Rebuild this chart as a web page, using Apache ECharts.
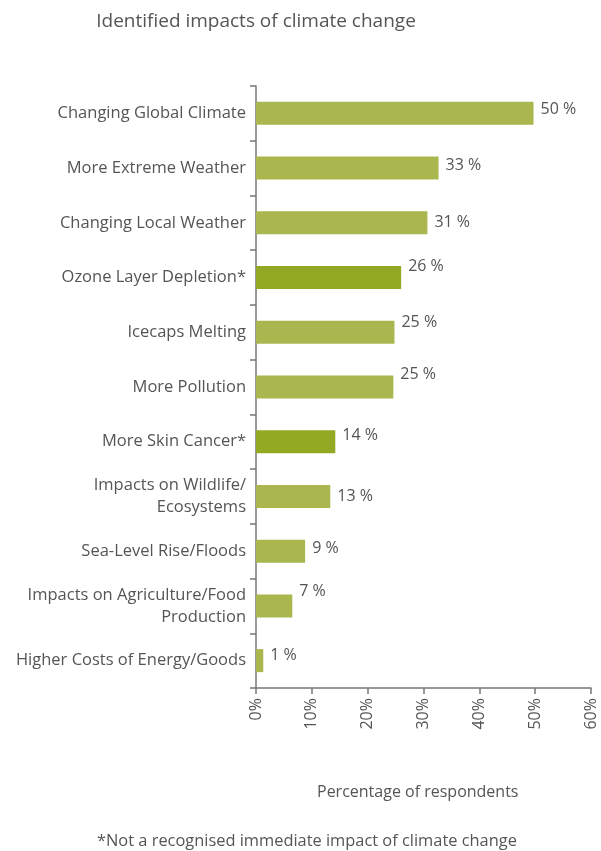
<!DOCTYPE html>
<html><head><meta charset="utf-8">
<script src="https://cdn.jsdelivr.net/npm/echarts@6/dist/echarts.min.js"></script>
<style>html,body{margin:0;padding:0;background:#fff}#c{width:601px;height:851px}</style>
</head><body><div id="c"></div>
<script>
const categories = [
  "Changing Global Climate",
  "More Extreme Weather",
  "Changing Local Weather",
  "Ozone Layer Depletion*",
  "Icecaps Melting",
  "More Pollution",
  "More Skin Cancer*",
  "Impacts on Wildlife/\nEcosystems",
  "Sea-Level Rise/Floods",
  "Impacts on Agriculture/Food\nProduction",
  "Higher Costs of Energy/Goods"
];
const values = [49.7, 32.7, 30.7, 26.0, 24.8, 24.6, 14.2, 13.3, 8.8, 6.5, 1.3];
const valueLabels = ["50 %", "33 %", "31 %", "26 %", "25 %", "25 %", "14 %", "13 %", "9 %", "7 %", "1 %"];
const notRecognised = [false, false, false, true, false, false, true, false, false, false, false];
const xTicks = [0, 10, 20, 30, 40, 50, 60];

const FONT = "Open Sans";
const TXT = "#555555";
const LIGHT = "#aab74f";
const DARK = "#93a823";
// vertical nudge of each value label, as laid out in the reference
const LABEL_LIFT = [-4, -3, 0, -11, -10, -13, -6, 0, -3, -14, -5];

const chart = echarts.init(document.getElementById('c'), null, {renderer: 'canvas'});
const data = values.map((v, i) => ({
  value: v,
  itemStyle: {color: notRecognised[i] ? DARK : LIGHT},
  label: {formatter: valueLabels[i], offset: [0, LABEL_LIFT[i]]}
}));
chart.setOption({
  animation: false,
  title: {
    text: "Identified impacts of climate change",
    left: 251, top: 7, textAlign: 'center',
    textStyle: {fontFamily: FONT, fontSize: 19, fontWeight: 'normal', color: TXT}
  },
  graphic: [{
    type: 'text', left: 97, top: 833,
    style: {text: "*Not a recognised immediate impact of climate change", font: "16.4px '" + FONT + "'", fill: TXT}
  }, {
    type: 'text', left: 317, top: 784,
    style: {text: "Percentage of respondents", font: "16px '" + FONT + "'", fill: TXT}
  }],
  grid: {left: 256, right: 10, top: 86, bottom: 163, containLabel: false},
  xAxis: {
    type: 'value', min: 0, max: 60, interval: xTicks[1] - xTicks[0],
    axisLine: {show: true, lineStyle: {color: '#777', width: 1.5}},
    axisTick: {show: true, length: 6, lineStyle: {color: '#777', width: 1.5}},
    splitLine: {show: false},
    axisLabel: {rotate: 90, margin: 10, fontFamily: FONT, fontSize: 16, color: TXT,
      formatter: v => v + "%"}
  },
  yAxis: {
    type: 'category', data: categories, inverse: true,
    axisLine: {show: true, lineStyle: {color: '#777', width: 1.5}},
    axisTick: {show: true, length: 6, lineStyle: {color: '#777', width: 1.5}},
    axisLabel: {margin: 10, fontFamily: FONT, fontSize: 16.5, color: TXT, lineHeight: 22, align: 'right'}
  },
  series: [{
    type: 'bar', data: data, barWidth: 23,
    label: {show: true, position: 'right', distance: 7, fontFamily: FONT, fontSize: 16, color: TXT}
  }]
});
</script></body></html>
